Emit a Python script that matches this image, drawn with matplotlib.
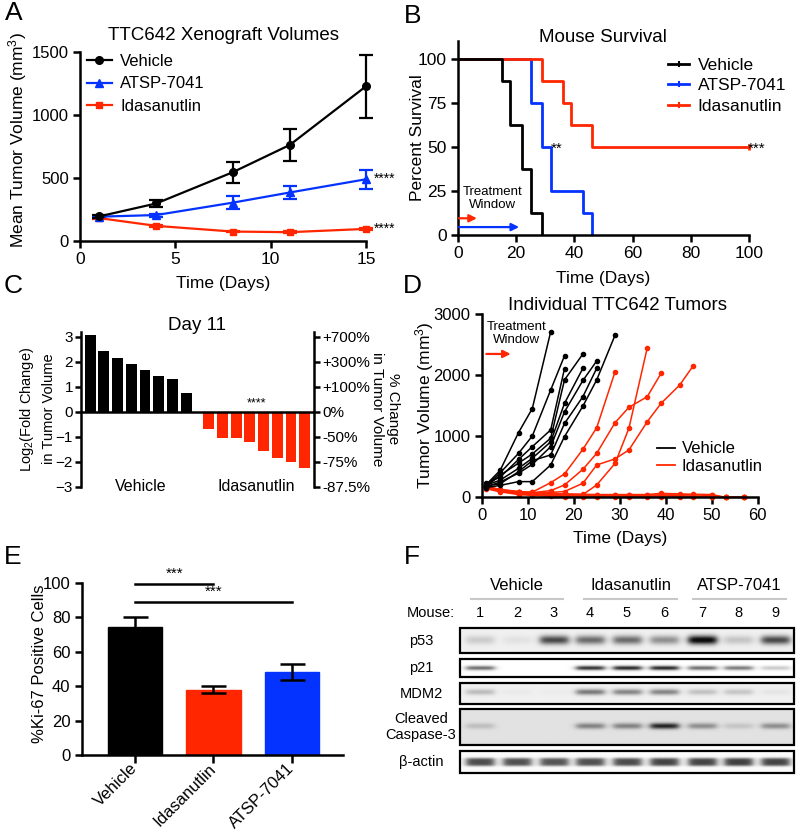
import matplotlib
matplotlib.use("Agg")
import matplotlib.pyplot as plt
import numpy as np
from matplotlib.lines import Line2D
from matplotlib.patches import Rectangle

plt.rcParams['font.family'] = ['Liberation Sans', 'DejaVu Sans']
plt.rcParams['mathtext.fontset'] = 'custom'
plt.rcParams['mathtext.rm'] = 'Liberation Sans'
plt.rcParams['mathtext.it'] = 'Liberation Sans:italic'
plt.rcParams['mathtext.bf'] = 'Liberation Sans:bold'
plt.rcParams['axes.linewidth'] = 1.8

RED = '#FF2600'
BLUE = '#0433FF'

# A: mean xenograft volumes
a_days = [1, 4, 8, 11, 15]
a_vehicle = [195, 298, 545, 762, 1228]
a_vehicle_err = [12, 28, 85, 128, 248]
a_atsp = [193, 206, 304, 385, 490]
a_atsp_err = [8, 12, 50, 54, 77]
a_ida = [182, 120, 75, 70, 96]
a_ida_err = [8, 10, 6, 8, 10]

# B: survival (step curves)
b_vehicle_t = [0, 15, 18, 22, 25, 29]
b_vehicle_s = [100, 87.5, 62.5, 37.5, 12.5, 0]
b_atsp_t = [0, 25, 29, 32, 43, 46]
b_atsp_s = [100, 75, 50, 25, 12.5, 0]
b_ida_t = [0, 29, 36, 39, 46, 100]
b_ida_s = [100, 87.5, 75, 62.5, 50, 50]

# C: waterfall day 11
c_vehicle = [3.08, 2.41, 2.16, 1.91, 1.67, 1.44, 1.31, 0.75]
c_ida = [-0.69, -1.04, -1.04, -1.2, -1.59, -1.84, -2.01, -2.27]
c_left_ticks = [-3, -2, -1, 0, 1, 2, 3]
c_right_labels = ['-87.5%', '-75%', '-50%', '0%', '+100%', '+300%', '+700%']

# D: individual tumours
d_veh_days = [
    [1, 4, 8, 11, 15],
    [1, 4, 8, 11, 15, 18],
    [1, 4, 8, 11, 15, 18],
    [1, 4, 8, 11, 15, 18, 22],
    [1, 4, 8, 11, 15, 18, 22],
    [1, 4, 8, 11, 15, 18, 22, 25],
    [1, 4, 8, 11, 15, 18, 22, 25],
    [1, 4, 8, 11, 15, 18, 22, 25, 29],
]
d_veh_vols = [
    [210, 440, 1060, 1455, 2715],
    [190, 400, 720, 1005, 1760, 2320],
    [230, 330, 620, 830, 1105, 2110],
    [180, 360, 560, 710, 970, 1925, 2350],
    [200, 280, 475, 640, 910, 1540, 2115],
    [170, 250, 395, 540, 830, 1400, 1915, 2235],
    [190, 220, 420, 600, 695, 1210, 1650, 2115],
    [160, 195, 257, 257, 530, 995, 1495, 1925, 2660],
]
d_ida_days = [
    [1, 4, 8, 11, 15, 18, 22, 25, 29],
    [1, 4, 8, 11, 15, 18, 22, 25, 29, 32, 36, 39],
    [1, 4, 8, 11, 15, 18, 22, 25, 29, 32, 36, 39, 43, 46],
    [1, 4, 8, 11, 15, 18, 22, 25, 29, 32, 36],
    [1, 4, 8, 11, 15, 18, 22, 25, 29, 32, 36, 39, 43, 46, 50, 53, 57],
    [1, 4, 8, 11, 15, 18, 22, 25, 29, 32, 36, 39, 43, 46, 50, 53, 57],
    [1, 4, 8, 11, 15, 18, 22, 25, 29, 32, 36, 39, 43, 46, 50, 53, 57],
    [1, 4, 8, 11, 15, 18, 22, 25, 29, 32, 36, 39, 43, 46, 50, 53, 57],
]
d_ida_vols = [
    [185, 125, 90, 85, 240, 383, 787, 1140, 2060],
    [175, 115, 80, 75, 110, 202, 459, 721, 1224, 1475, 1650, 2033],
    [170, 110, 70, 60, 80, 95, 230, 530, 630, 776, 1240, 1541, 1836, 2158],
    [165, 105, 65, 55, 50, 50, 45, 202, 557, 1131, 2454],
    [170, 130, 95, 80, 60, 55, 50, 45, 45, 45, 45, 65, 55, 50, 45, 0, 0],
    [160, 120, 80, 60, 45, 40, 35, 35, 35, 35, 35, 40, 40, 40, 30, 0, 0],
    [150, 105, 60, 45, 30, 25, 20, 20, 20, 20, 20, 25, 25, 20, 5, 0, 0],
    [140, 90, 45, 30, 15, 10, 10, 5, 5, 5, 5, 5, 5, 5, 0, 0, 0],
]

# E: Ki-67
e_groups = ['Vehicle', 'Idasanutlin', 'ATSP-7041']
e_values = [74, 38, 48]
e_errors = [6, 2.3, 4.7]
e_colors = ['black', RED, BLUE]

# F: western blot band intensities (0 = none, 1 = black)
f_lanes = ['1', '2', '3', '4', '5', '6', '7', '8', '9']
f_groups = ['Vehicle', 'Idasanutlin', 'ATSP-7041']
f_rows = ['p53', 'p21', 'MDM2', 'Cleaved\nCaspase-3', 'β-actin']
f_p53 = [0.15, 0.06, 0.7, 0.55, 0.55, 0.4, 1.0, 0.18, 0.7]
f_p21 = [0.6, 0.0, 0.0, 0.85, 0.9, 0.9, 0.6, 0.55, 0.22]
f_mdm2 = [0.22, 0.03, 0.02, 0.5, 0.45, 0.45, 0.2, 0.18, 0.05]
f_casp = [0.15, 0.0, 0.0, 0.4, 0.4, 0.8, 0.35, 0.12, 0.35]
f_actin = [0.72, 0.7, 0.68, 0.7, 0.72, 0.75, 0.75, 0.77, 0.75]

W, H = 800, 835
fig = plt.figure(figsize=(W / 100, H / 100), dpi=100)


def px_axes(left, top, right, bottom):
    return fig.add_axes([left / W, 1 - bottom / H, (right - left) / W, (bottom - top) / H])


def ftext(x, y, s, **kw):
    kw.setdefault('ha', 'center')
    kw.setdefault('va', 'center')
    fig.text(x / W, 1 - y / H, s, **kw)


def style(ax, size=12):
    ax.spines['top'].set_visible(False)
    ax.spines['right'].set_visible(False)
    ax.tick_params(direction='out', length=5, width=1.8, labelsize=size, pad=3)


legkw = dict(frameon=False, borderpad=0, borderaxespad=0)

# ---------------- A
ax = px_axes(80, 52, 366, 241)
style(ax)
ekw = dict(lw=1.6, capsize=5, capthick=1.6, elinewidth=1.6, clip_on=False)
ax.errorbar(a_days, a_ida, yerr=a_ida_err, color=RED, marker='s', ms=5, **ekw)
ax.errorbar(a_days, a_atsp, yerr=a_atsp_err, color=BLUE, marker='^', ms=5.5, **ekw)
ax.errorbar(a_days, a_vehicle, yerr=a_vehicle_err, color='black', marker='o', ms=5.5, **ekw)
ax.set_xlim(0, 15)
ax.set_ylim(0, 1500)
ax.set_xticks([0, 5, 10, 15])
ax.set_yticks([0, 500, 1000, 1500])
ax.tick_params(axis='x', labelsize=12.5)
handles = [Line2D([], [], color='black', lw=1.6, marker='o', ms=5.5),
           Line2D([], [], color=BLUE, lw=1.6, marker='^', ms=5.5),
           Line2D([], [], color=RED, lw=1.6, marker='s', ms=5)]
ax.legend(handles, ['Vehicle', 'ATSP-7041', 'Idasanutlin'], loc='upper left', bbox_to_anchor=(0.024, 0.99),
          fontsize=12, handlelength=1.5, handletextpad=0.5, labelspacing=0.45, **legkw)
ax.text(15.4, a_atsp[-1], '****', fontsize=10, va='center', clip_on=False)
ax.text(15.4, a_ida[-1], '****', fontsize=10, va='center', clip_on=False)
ftext(223, 35, 'TTC642 Xenograft Volumes', fontsize=13.5)
ftext(18, 140, 'Mean Tumor Volume (mm$^3$)', fontsize=12.5, rotation=90)
ftext(223, 283, 'Time (Days)', fontsize=12.5)

# ---------------- B
ax = px_axes(458, 41.4, 749, 235)
style(ax, size=12.5)
ax.step(b_atsp_t, b_atsp_s, where='post', color=BLUE, lw=2)
ax.step(b_ida_t, b_ida_s, where='post', color=RED, lw=2)
ax.plot([b_ida_t[-1]], [b_ida_s[-1]], marker='|', color=RED, ms=5, mew=2, clip_on=False)
ax.step(b_vehicle_t, b_vehicle_s, where='post', color='black', lw=2)
ax.set_xlim(0, 100)
ax.set_ylim(0, 110)
ax.set_xticks([0, 20, 40, 60, 80, 100])
ax.set_yticks([0, 25, 50, 75, 100])
handles = [Line2D([], [], color=c, lw=2, marker='|', ms=4, mew=1.5) for c in ['black', BLUE, RED]]
ax.legend(handles, ['Vehicle', 'ATSP-7041', 'Idasanutlin'], loc='upper left', bbox_to_anchor=(0.722, 0.915),
          fontsize=12.5, handlelength=1.2, handletextpad=0.5, labelspacing=0.3, **legkw)
ax.annotate('', xy=(6.5, 9.5), xytext=(0.3, 9.5),
            arrowprops=dict(arrowstyle='-|>', color=RED, lw=1.6, mutation_scale=11, shrinkA=0, shrinkB=0))
ax.annotate('', xy=(21, 4.5), xytext=(0.3, 4.5),
            arrowprops=dict(arrowstyle='-|>', color=BLUE, lw=1.6, mutation_scale=11, shrinkA=0, shrinkB=0))
ax.text(12, 20.5, 'Treatment\nWindow', fontsize=9.5, ha='center', va='center', linespacing=1.1)
ax.text(34, 49, '**', fontsize=11, ha='center', va='center')
ax.text(102.5, 49, '***', fontsize=11, ha='center', va='center', clip_on=False)
ftext(603, 38, 'Mouse Survival', fontsize=13.5)
ftext(417, 138, 'Percent Survival', fontsize=12.5, rotation=90)
ftext(603, 279, 'Time (Days)', fontsize=12.5)

# ---------------- C
ax = px_axes(80.7, 331.7, 314.3, 486.7)
xv = np.arange(len(c_vehicle))
xi = np.arange(len(c_ida)) + 8.65
ax.bar(xv, c_vehicle, width=0.8, color='black')
ax.bar(xi, c_ida, width=0.8, color=RED)
ax.axhline(0, color='black', lw=1.8)
ax.set_xlim(-0.69, 16.35)
ax.set_ylim(-3, 3.2)
for s in ['top', 'right', 'bottom']:
    ax.spines[s].set_visible(False)
ax.set_xticks([])
ax.set_yticks(c_left_ticks)
ax.tick_params(axis='y', direction='out', length=4, width=1.8, labelsize=11, pad=1.5)
ax2 = ax.twinx()
ax2.set_ylim(-3, 3.2)
for s in ['top', 'left', 'bottom']:
    ax2.spines[s].set_visible(False)
ax2.set_yticks(c_left_ticks)
ax2.set_yticklabels(c_right_labels)
ax2.tick_params(axis='y', direction='out', length=4, width=1.8, labelsize=11, pad=1.5)
ax.text(3.7, -3, 'Vehicle', fontsize=11.5, ha='center', va='center')
ax.text(12.15, -3, 'Idasanutlin', fontsize=11.5, ha='center', va='center')
ax.text(12.15, 0.33, '****', fontsize=9, ha='center', va='center')
ftext(197, 325, 'Day 11', fontsize=13.5)
ftext(27, 409, 'Log$_2$(Fold Change)', fontsize=10.5, rotation=90)
ftext(49, 409, 'in Tumor Volume', fontsize=10.5, rotation=90)
ftext(393, 409, '% Change', fontsize=11, rotation=270)
ftext(377, 409, 'in Tumor Volume', fontsize=11, rotation=270)

# ---------------- D
ax = px_axes(481.7, 314.3, 757.7, 497.3)
style(ax)
for dd, vv in zip(d_ida_days, d_ida_vols):
    ax.plot(dd, vv, color=RED, lw=1.1, marker='o', ms=3, clip_on=False)
for dd, vv in zip(d_veh_days, d_veh_vols):
    ax.plot(dd, vv, color='black', lw=1.1, marker='o', ms=3, clip_on=False)
ax.set_xlim(0, 60)
ax.set_ylim(0, 3000)
ax.set_xticks([0, 10, 20, 30, 40, 50, 60])
ax.set_yticks([0, 1000, 2000, 3000])
handles = [Line2D([], [], color=c, lw=1.3) for c in ['black', RED]]
ax.legend(handles, ['Vehicle', 'Idasanutlin'], loc='center left', bbox_to_anchor=(0.635, 0.217),
          fontsize=12, handlelength=1.1, handletextpad=0.4, labelspacing=0.15, **legkw)
ax.annotate('', xy=(6.3, 2350), xytext=(1, 2350),
            arrowprops=dict(arrowstyle='-|>', color=RED, lw=1.6, mutation_scale=11, shrinkA=0, shrinkB=0))
ax.text(7.5, 2680, 'Treatment\nWindow', fontsize=9.5, ha='center', va='center', linespacing=1.1)
ftext(618, 305, 'Individual TTC642 Tumors', fontsize=13.5)
ftext(425, 405, 'Tumor Volume (mm$^3$)', fontsize=12.5, rotation=90)
ftext(620, 538, 'Time (Days)', fontsize=12.5)

# ---------------- E
ax = px_axes(81.7, 582.7, 343, 755)
style(ax)
xe = np.arange(len(e_groups))
ax.bar(xe, e_values, width=0.69, color=e_colors, edgecolor=e_colors)
ax.errorbar(xe, e_values, yerr=e_errors, fmt='none', ecolor='black', elinewidth=1.8,
            capsize=9, capthick=1.8)
ax.set_xlim(-0.679, 2.65)
ax.set_ylim(0, 100)
ax.set_yticks([0, 20, 40, 60, 80, 100])
ax.set_xticks(xe)
ax.tick_params(axis='x', length=6, pad=2)
ax.set_xticklabels(e_groups, rotation=45, ha='right', va='center', rotation_mode='anchor', fontsize=12)
ax.plot([0, 1], [99.5, 99.5], color='black', lw=1.8, clip_on=False)
ax.plot([0, 2], [88.8, 88.8], color='black', lw=1.8, clip_on=False)
ax.text(0.5, 101.2, '***', fontsize=11, ha='center', va='bottom', clip_on=False)
ax.text(1.0, 90.5, '***', fontsize=11, ha='center', va='bottom')
ftext(40, 664, '%Ki-67 Positive Cells', fontsize=12, rotation=90)

# ---------------- F (western blot, pixel coordinates)
fx = px_axes(380, 560, 800, 835)
fx.set_xlim(380, 800)
fx.set_ylim(835, 560)
fx.axis('off')
lane_x = [480, 517, 554, 590, 627, 664, 702, 738, 775]
group_spans = [(471, 563), (584, 677), (693, 786)]
for name, (g0, g1) in zip(f_groups, group_spans):
    fx.text((g0 + g1) / 2, 585, name, fontsize=12, ha='center', va='center')
    fx.plot([g0, g1], [599, 599], color='#c8c8c8', lw=1.5)
fx.text(455, 613, 'Mouse:', fontsize=10.5, ha='right', va='center')
for lx, lab in zip(lane_x, f_lanes):
    fx.text(lx, 613, lab, fontsize=10.5, ha='center', va='center')

# box top, bottom, band centre, band half-height, profile power, background, intensities
blots = [
    (628, 653, 640, 4.5, 2, 0.06, f_p53),
    (659, 677, 668, 2.2, 2, 0.0, f_p21),
    (683, 704, 692, 3.0, 2, 0.06, f_mdm2),
    (709, 745, 726, 3.0, 2, 0.12, f_casp),
    (751, 773, 762, 4.2, 4, 0.02, f_actin),
]
bx0, bx1 = 460, 794
for (y0, y1, yc, sig, pw, bg, vals), lab in zip(blots, f_rows):
    xs = np.linspace(bx0, bx1, 600)
    ys = np.linspace(y0, y1, 80)
    X, Y = np.meshgrid(xs, ys)
    img = np.full(X.shape, bg)
    for lx, v in zip(lane_x, vals):
        hprof = 1 / (1 + np.exp((np.abs(X - lx) - 14) / 2.0))
        vprof = np.exp(-np.abs((Y - yc) / sig) ** pw)
        img = img + v * hprof * vprof
    fx.imshow(np.clip(img, 0, 1), cmap='gray_r', vmin=0, vmax=1.05, extent=(bx0, bx1, y1, y0),
              aspect='auto', interpolation='bilinear', zorder=1)
    fx.add_patch(Rectangle((bx0, y0), bx1 - bx0, y1 - y0, fill=False, ec='black', lw=1.6, zorder=2))
    fx.text(421, (y0 + y1) / 2, lab, fontsize=10.5, ha='center', va='center', linespacing=1.15)
fx.set_xlim(380, 800)
fx.set_ylim(835, 560)

# panel letters
for letter, (x, y) in zip('ABCDEF', [(14, 13), (413, 16), (13, 286), (412, 286), (13, 557), (412, 557)]):
    ftext(x, y, letter, fontsize=19)

fig.savefig('out.png', dpi=100)
